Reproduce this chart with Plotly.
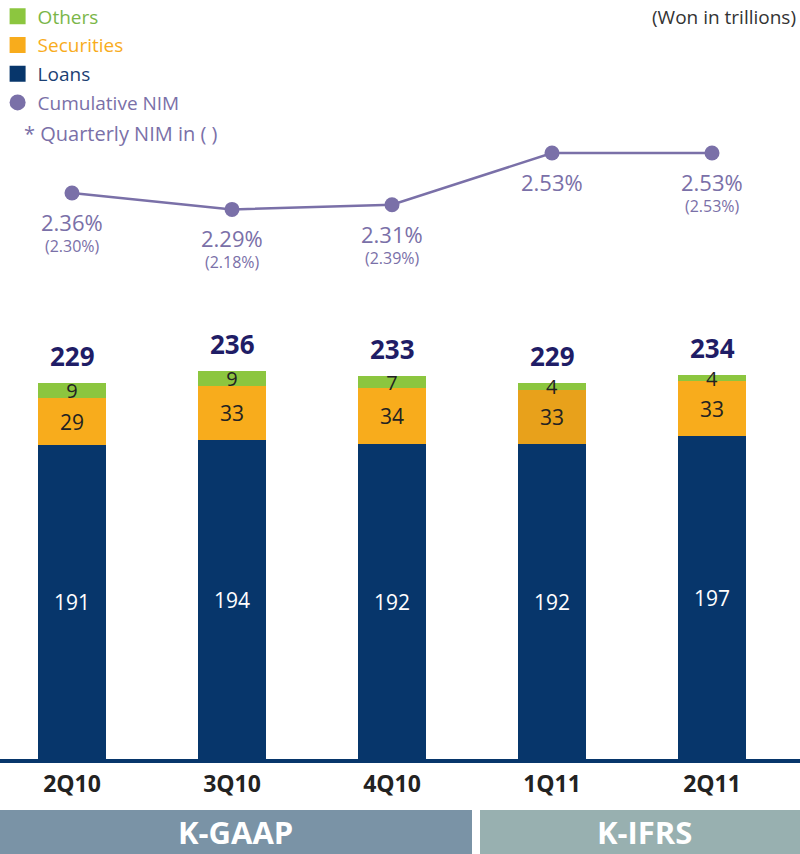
import plotly.graph_objects as go

quarters = ["2Q10", "3Q10", "4Q10", "1Q11", "2Q11"]
loans = [191, 194, 192, 192, 197]
securities = [29, 33, 34, 33, 33]
others = [9, 9, 7, 4, 4]
totals = [229, 236, 233, 229, 234]
nim_cum = [2.36, 2.29, 2.31, 2.53, 2.53]
nim_qtr = ["(2.30%)", "(2.18%)", "(2.39%)", "", "(2.53%)"]

C_LOAN = "#07366b"
C_SEC = "#f8ac1c"
C_SEC_COLS = ["#f8ac1c", "#f8ac1c", "#f8ac1c", "#e8a11b", "#f8ac1c"]
C_OTH = "#8cc63f"
C_NIM = "#7a70a8"
FONT = "Open Sans, Noto Sans, sans-serif"

fig = go.Figure()

for vals, col, tcol, fs in [(loans, C_LOAN, "white", 21), (securities, C_SEC_COLS, "#222222", 21),
                            (others, C_OTH, "#222222", 20)]:
    fig.add_trace(go.Bar(
        x=quarters, y=vals, marker=dict(color=col, line=dict(width=0)), width=0.425,
        text=vals, textposition="inside", insidetextanchor="middle", textangle=0,
        textfont=dict(color=tcol, size=fs, family=FONT),
        showlegend=False, hoverinfo="skip"))

fig.add_trace(go.Scatter(
    x=quarters, y=nim_cum, yaxis="y2", mode="lines+markers",
    line=dict(color=C_NIM, width=2.5), marker=dict(color=C_NIM, size=15),
    showlegend=False, hoverinfo="skip"))

# legend-only entries
legend_items = [("Others", C_OTH, "#7ab648", "square"),
                ("Securities", C_SEC, C_SEC, "square"),
                ("Loans", C_LOAN, "#1b3f73", "square"),
                ("Cumulative NIM", C_NIM, C_NIM, "circle")]
for i, (nm, col, tcol, sym) in enumerate(legend_items):
    fig.add_trace(go.Scatter(
        x=[None], y=[None], mode="markers",
        marker=dict(color=col, size=16 if sym == "square" else 17, symbol=sym),
        name=f"<span style='color:{tcol}'>{nm}</span>", legendgroup=f"g{i}"))

annotations = []
for q, t in zip(quarters, totals):
    annotations.append(dict(x=q, y=t, xref="x", yref="y", text=f"<b>{t}</b>",
                            showarrow=False, yanchor="bottom", yshift=7,
                            font=dict(color="#1f1d66", size=26, family=FONT)))
for q, v, qq in zip(quarters, nim_cum, nim_qtr):
    annotations.append(dict(x=q, y=v, xref="x", yref="y2", text=f"{v:.2f}%",
                            showarrow=False, yanchor="middle", yshift=-29,
                            font=dict(color=C_NIM, size=22, family=FONT)))
    if qq:
        annotations.append(dict(x=q, y=v, xref="x", yref="y2", text=qq,
                                showarrow=False, yanchor="middle", yshift=-53,
                                font=dict(color=C_NIM, size=16, family=FONT)))

shapes = [
    dict(type="rect", xref="paper", yref="paper", x0=0, x1=0.59, y0=0, y1=44/854,
         fillcolor="#7a93a6", line=dict(width=0), layer="below"),
    dict(type="rect", xref="paper", yref="paper", x0=0.6, x1=1, y0=0, y1=44/854,
         fillcolor="#98b0b0", line=dict(width=0), layer="below"),
]

annotations += [
    dict(text="<b>K-GAAP</b>", x=0.294, y=22/854, xref="paper", yref="paper",
         showarrow=False, xanchor="center", yanchor="middle",
         font=dict(color="white", size=31, family=FONT)),
    dict(text="<b>K-IFRS</b>", x=0.806, y=22/854, xref="paper", yref="paper",
         showarrow=False, xanchor="center", yanchor="middle",
         font=dict(color="white", size=31, family=FONT)),
    dict(text="(Won in trillions)", x=0.998, y=1 - 17/854, xref="paper", yref="paper",
         xanchor="right", yanchor="middle", showarrow=False,
         font=dict(color="#333333", size=19, family=FONT)),
    dict(text="* Quarterly NIM in ( )", x=22/800, y=1 - 133/854, xref="paper", yref="paper",
         xanchor="left", yanchor="middle", showarrow=False,
         font=dict(color=C_NIM, size=20, family=FONT)),
]

fig.update_layout(
    width=800, height=854,
    margin=dict(l=0, r=0, t=0, b=0, autoexpand=False),
    paper_bgcolor="white", plot_bgcolor="white",
    barmode="stack", bargap=0,
    showlegend=True,
    legend=dict(x=-0.003, y=1.003, xanchor="left", yanchor="top",
                traceorder="grouped", tracegroupgap=1,
                font=dict(size=19, family=FONT), bgcolor="rgba(0,0,0,0)",
                itemclick=False, itemwidth=30),
    uniformtext=dict(minsize=20, mode="show"),
    xaxis=dict(type="category", range=[-0.45, 4.55], showgrid=False,
               showline=True, linecolor="#07366b", linewidth=4,
               ticks="outside", ticklen=1, tickcolor="rgba(0,0,0,0)",
               tickfont=dict(size=23, color="#222222", family=FONT),
               zeroline=False, fixedrange=True),
    yaxis=dict(domain=[95/854, 1], range=[0, 759/1.642], visible=False, fixedrange=True),
    yaxis2=dict(overlaying="y", range=[2.53 - 606/235, 2.53 + 153/235],
                visible=False, fixedrange=True),
    shapes=shapes, annotations=annotations,
    font=dict(family=FONT),
)
fig.update_xaxes(tickprefix="<b>", ticksuffix="</b>")

fig.write_html("out.html", config={"displayModeBar": False},
               post_script="document.body.style.margin='0';document.body.style.overflow='hidden';")
